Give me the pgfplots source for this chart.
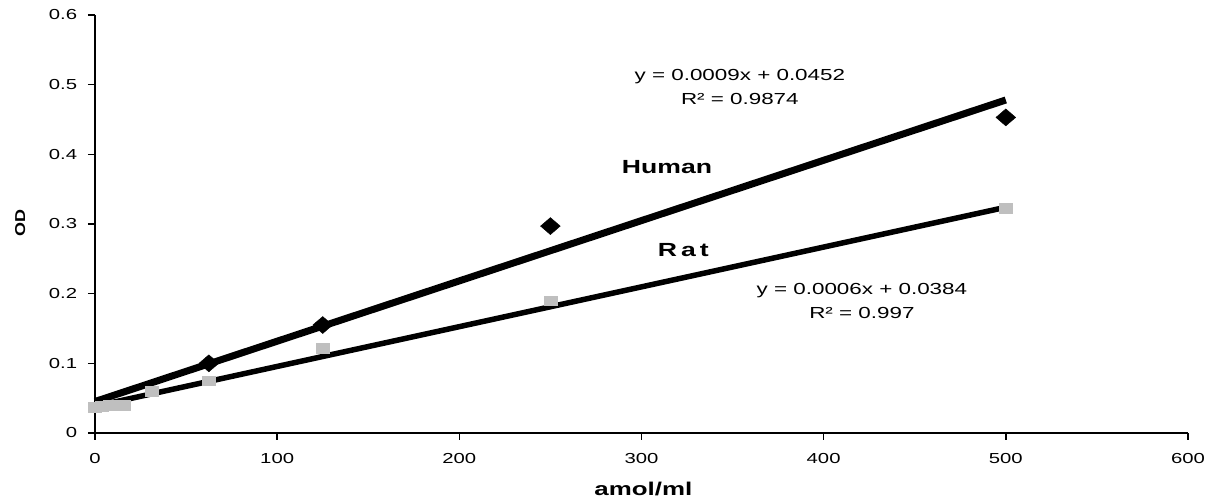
\documentclass[border=0pt]{standalone}
\usepackage{fontspec}
\setmainfont{Liberation Sans}[FakeStretch=1.4]
\newfontfamily\stretchfont{Liberation Sans}[FakeStretch=1.4]
\newfontfamily\plainfont{Liberation Sans}
\usepackage{pgfplots}
\pgfplotsset{compat=1.18}

\pgfplotstableread{
x y
62.5 0.100
125 0.155
250 0.297
500 0.453
}\human
\pgfplotstableread{
x y
0 0.037
3.9 0.038
7.8 0.040
15.6 0.040
31.25 0.060
62.5 0.075
125 0.122
250 0.190
500 0.323
}\rat

\newcommand\tl[1]{\mbox{\stretchfont\fontsize{14.5}{16}\selectfont #1}}

\begin{document}
\fontsize{14}{16}\selectfont
\begin{tikzpicture}
  \begin{axis}[
      at={(0,0)}, anchor=south west,
      scale only axis,
      width=1093pt, height=418pt,
      xmin=0, xmax=600, ymin=0, ymax=0.6,
      xtick={0,100,200,300,400,500,600},
      xticklabels={\tl{0},\tl{100},\tl{200},\tl{300},\tl{400},\tl{500},\tl{600}},
      ytick={0,0.1,0.2,0.3,0.4,0.5,0.6},
      yticklabels={\tl{0},\tl{0.1},\tl{0.2},\tl{0.3},\tl{0.4},\tl{0.5},\tl{0.6}},
      axis lines*=left,
      axis line style={line width=1.6pt},
      tick style={line width=1.6pt, black},
      tick align=outside,
      major tick length=7pt,
      yticklabel style={xshift=-6pt},
      xticklabel style={yshift=-9pt},
      clip=false,
    ]
    % markers
    \addplot[only marks, mark=diamond*, mark size=8.5pt,
      mark options={xscale=1.55, fill=black, draw=black}] table {\human};
    \addplot[only marks, mark=square*, mark size=6.5pt,
      mark options={yscale=0.75, fill=gray!50, draw=gray!50}] table {\rat};
    % trend lines
    \addplot[line width=7pt, black] coordinates {(0,0.0452) (500,0.478)};
    \addplot[line width=5.5pt, black] coordinates {(0,0.0384) (500,0.324)};
    % labels
    \node[align=center, font=\fontsize{16}{24}\selectfont] at (axis cs:354,0.497)
      {y = 0.0009x + 0.0452\\R² = 0.9874};
    \node[font=\fontsize{19}{22}\selectfont\bfseries] at (axis cs:314,0.382) {Human};
    \node[font=\fontsize{19}{22}\selectfont\bfseries] at (axis cs:323,0.263)
      {R\hspace{4pt}a\hspace{4pt}t};
    \node[align=center, font=\fontsize{16}{24}\selectfont] at (axis cs:421,0.189)
      {y = 0.0006x + 0.0384\\R² = 0.997};
    % axis titles
    \node[font=\fontsize{18.5}{22}\selectfont\bfseries] at (axis cs:301,-0.080) {amol/ml};
    \node at (axis cs:-41,0.301)
      {\rotatebox{90}{\resizebox{27pt}{10pt}{\plainfont\bfseries OD}}};
  \end{axis}
  \pgfresetboundingbox
  \path[use as bounding box] (-95pt,-67pt) rectangle (1125pt,433pt);
\end{tikzpicture}
\end{document}
